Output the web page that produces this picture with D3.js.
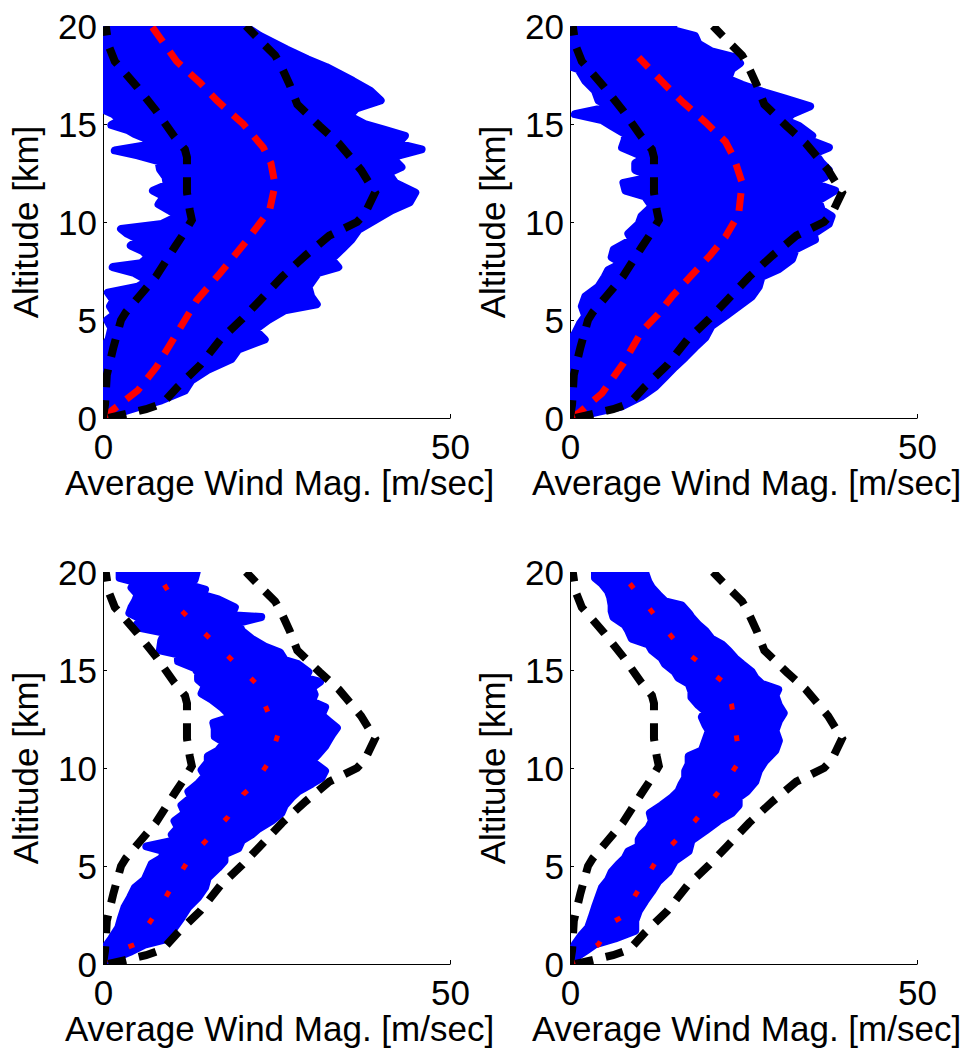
<!DOCTYPE html>
<html>
<head>
<meta charset="utf-8">
<script src="https://cdn.jsdelivr.net/npm/d3@7/dist/d3.min.js"></script>
<style>
  html, body { margin: 0; padding: 0; background: #ffffff; }
  svg { display: block; }
  text { font-family: "Liberation Sans", Arial, Helvetica, sans-serif; }
</style>
</head>
<body>
<svg id="chart" width="968" height="1050"></svg>
<script>
// ---- axis ticks and titles ----
const altitudeTicks = [0, 5, 10, 15, 20];   // km
const speedTicks = [0, 50];                 // m/s
const xTitle = "Average Wind Mag. [m/sec]";
const yTitle = "Altitude [km]";

// ---- shared climatological envelope, points are [altitude km, speed m/s] ----
const envelopeLow = [[0,0],[0.7,0.3],[2.2,0.55],[3.6,1.5],[5.0,2.6],[5.4,3.3],[6.2,5.2],[7.2,7.6],[8.7,10.3],[9.5,11.8],[10.1,12.8],[10.6,12.5],[11.5,12.1],[13.3,12.1],[13.7,11.8],[14.35,10.3],[15.7,7.6],[16.9,4.9],[18.2,1.7],[19.0,0.8],[20,0.4]];
const envelopeHigh = [[0,0.8],[0.2,3.2],[0.45,6.2],[0.75,8.6],[1.6,10.8],[2.7,14.0],[4.0,16.9],[5.0,19.9],[6.0,22.6],[7.2,25.8],[8.3,29.2],[9.3,32.6],[10.0,36.6],[10.4,37.7],[11.5,39.2],[12.65,37.2],[14.0,34.0],[14.9,31.2],[16.0,28.0],[17.0,26.9],[18.0,25.6],[18.5,24.8],[19.2,22.8],[20,20.6]];

// ---- spread of individual profiles: lower and upper edge per case ----
const spreadLowA = [[0,0],[3.6,0],[4.0,0.8],[4.6,1.2],[5.0,0.6],[5.3,1.7],[5.7,1.0],[6.0,1.5],[6.4,0.7],[6.7,5.0],[7.0,6.5],[7.4,4.5],[7.7,1.4],[7.9,5.5],[8.2,6.5],[8.5,5.8],[8.8,4.0],[9.1,5.2],[9.4,3.5],[9.65,2.6],[9.9,8.5],[10.3,10.8],[10.6,9.5],[10.9,8.0],[11.3,8.8],[11.6,7.2],[11.9,9.2],[12.3,9.0],[12.7,8.2],[13.1,8.0],[13.4,5.0],[13.65,1.7],[13.9,6.0],[14.2,6.5],[14.5,4.5],[14.7,3.5],[14.95,1.2],[15.2,2.5],[15.5,1.5],[15.7,0.3],[15.8,0],[20,0]];
const spreadHighA = [[0,1.2],[0.24,2.2],[0.6,5.5],[0.9,8.4],[1.4,11.8],[1.9,12.7],[2.45,15.1],[3.0,18.5],[3.5,19.5],[4.0,23.3],[4.5,21.9],[5.0,23.8],[5.5,26.2],[5.8,30.8],[6.2,30.0],[6.7,29.6],[7.4,31.0],[7.7,33.9],[8.1,32.9],[8.6,34.4],[9.1,35.8],[9.6,36.8],[10.1,39.2],[10.6,41.6],[11.0,44.2],[11.5,45.0],[12.0,42.1],[12.5,41.1],[12.8,43.0],[13.3,41.6],[13.7,45.9],[14.0,42.5],[14.4,43.5],[14.7,40.6],[15.0,37.7],[15.4,35.5],[15.8,36.5],[16.2,40.0],[16.7,38.5],[17.2,36.0],[17.9,32.2],[18.3,29.5],[18.8,26.5],[19.5,22.6],[20,20.4]];
const meanA = [[0,0],[0.25,0.8],[1.4,5.0],[2.6,7.7],[4.3,10.6],[6.0,13.5],[7.4,16.9],[9.0,20.6],[10.6,24.0],[11.9,24.8],[13.0,24.2],[13.8,23.1],[15.0,20.2],[16.2,16.4],[17.1,14.0],[18.2,10.6],[19.4,8.2],[20,7.0]];

const spreadLowB = [[0,0],[3.98,0],[4.3,0.7],[4.8,1.4],[5.2,2.2],[5.7,1.7],[6.2,2.2],[6.7,4.1],[7.2,5.0],[7.55,5.5],[7.9,7.5],[8.2,6.0],[8.6,6.3],[9.1,8.9],[9.4,8.4],[9.9,9.9],[10.3,10.3],[10.8,11.8],[11.3,10.8],[11.6,8.0],[12.0,7.7],[12.3,11.8],[12.65,9.4],[13.0,9.4],[13.3,10.8],[13.8,7.5],[14.2,7.9],[14.5,7.9],[14.9,6.0],[15.2,4.6],[15.5,0.7],[15.9,6.0],[16.2,4.1],[16.7,3.6],[17.2,2.2],[17.8,1.2],[17.95,0],[20,0]];
const spreadHighB = [[0,0.7],[0.24,3.1],[0.6,7.5],[1.1,10.3],[1.6,12.3],[2.1,13.7],[2.6,15.1],[3.1,16.6],[3.6,18.0],[4.1,19.5],[4.7,20.4],[5.2,22.4],[5.7,24.3],[6.2,26.2],[6.7,27.2],[7.2,27.6],[7.6,30.1],[8.1,32.0],[8.6,32.5],[9.1,35.3],[9.4,35.1],[9.9,37.3],[10.3,37.7],[10.6,36.3],[11.1,35.8],[11.6,38.2],[12.0,34.9],[12.3,36.8],[12.65,37.3],[13.0,36.3],[13.5,35.3],[13.8,37.3],[14.2,34.4],[14.4,34.9],[14.9,33.0],[15.2,31.0],[15.5,32.0],[15.9,34.6],[16.3,31.0],[16.6,28.1],[17.0,24.8],[17.3,22.8],[17.8,23.3],[18.1,24.5],[18.4,23.8],[18.7,20.4],[19.1,18.5],[19.5,18.0],[19.8,14.7],[20,14.9]];
const meanB = [[0,0],[0.24,1.2],[1.26,4.6],[2.8,7.7],[4.4,10.3],[5.3,12.7],[6.2,14.7],[7.2,17.3],[8.3,20.2],[9.25,22.4],[10.4,24.3],[12.0,24.8],[13.3,23.6],[14.1,22.4],[15.1,19.5],[16.1,16.3],[17.0,13.7],[18.4,9.9]];

const spreadLowC = [[0,0],[0.5,0],[0.8,0.2],[1.3,1.2],[1.85,2.2],[2.35,2.6],[2.9,3.1],[3.4,3.9],[3.9,4.6],[4.3,6.0],[4.7,6.5],[5.1,7.0],[5.4,8.4],[5.75,8.9],[6.0,6.25],[6.3,10.3],[6.6,9.9],[6.95,10.8],[7.3,10.3],[7.7,11.8],[8.1,11.3],[8.5,12.7],[8.8,12.3],[9.2,13.7],[9.6,14.7],[9.9,14.2],[10.3,15.1],[10.6,15.1],[10.9,16.6],[11.3,17.5],[11.6,16.1],[12.0,16.1],[12.3,15.9],[12.6,18.5],[13.1,17.1],[13.5,15.6],[13.8,14.2],[14.2,14.7],[14.5,13.7],[14.85,13.7],[15.1,13.2],[15.45,10.8],[15.8,10.8],[16.0,8.2],[16.5,8.4],[16.9,8.9],[17.2,4.6],[17.6,5.5],[17.9,3.8],[18.2,4.1],[18.5,4.6],[18.85,5.0],[19.2,4.1],[19.5,4.6],[19.7,2.4],[20,2.4]];
const spreadHighC = [[0,0.3],[0.3,1.7],[0.65,4.1],[0.99,6.0],[1.3,9.4],[1.85,10.3],[2.35,11.3],[2.9,12.3],[3.4,13.7],[3.9,14.7],[4.4,15.1],[4.9,16.6],[5.25,17.5],[5.6,17.5],[5.9,19.5],[6.3,20.0],[6.6,21.4],[6.9,22.4],[7.3,24.3],[7.7,25.7],[8.1,26.2],[8.5,27.2],[8.8,28.1],[9.2,30.1],[9.5,31.5],[9.85,32.0],[10.35,30.1],[10.7,31.0],[11.1,32.0],[11.4,32.5],[11.7,33.0],[12.05,33.7],[12.4,32.5],[12.7,31.5],[13.1,32.0],[13.4,30.1],[13.75,30.5],[14.1,30.1],[14.4,31.3],[14.6,29.1],[14.9,29.6],[15.3,28.1],[15.5,26.2],[15.9,25.5],[16.2,23.3],[16.6,21.4],[17.0,20.0],[17.4,19.5],[17.7,22.8],[17.8,18.5],[18.2,19.0],[18.6,16.6],[18.85,14.2],[19.1,14.7],[19.4,11.8],[19.6,13.2],[20,13.5]];
const meanC = [[0,0],[0.5,1.0],[1.0,4.6],[2.9,8.2],[4.05,10.1],[5.4,12.5],[7.5,18.0],[8.65,20.2],[9.1,21.6],[10.35,24.0],[11.7,25.2],[12.2,24.5],[14.3,22.1],[15.3,19.2],[16.3,16.3],[18.2,10.8],[19.6,8.4],[20,7.6]];

const spreadLowD = [[0,0],[0.5,0.2],[1.0,0.7],[1.5,1.7],[1.85,2.6],[2.35,3.1],[2.9,3.6],[3.4,4.1],[3.9,4.6],[4.3,5.5],[4.7,6.0],[5.1,7.0],[5.4,7.9],[5.75,8.4],[6.0,9.9],[6.35,9.9],[6.6,10.3],[6.95,11.3],[7.3,11.8],[7.7,11.5],[8.1,13.2],[8.5,14.7],[8.8,15.6],[9.2,16.1],[9.5,16.6],[9.85,16.6],[10.2,17.1],[10.6,17.1],[10.9,19.0],[11.4,19.5],[11.9,20.0],[12.2,19.5],[12.6,19.0],[12.9,19.5],[13.2,18.5],[13.6,17.5],[13.9,17.5],[14.3,17.1],[14.6,15.6],[14.9,15.1],[15.3,13.7],[15.6,13.2],[16.0,11.8],[16.3,11.3],[16.6,8.9],[17.0,8.4],[17.3,7.9],[17.7,6.25],[18.0,6.0],[18.3,6.0],[18.7,5.8],[19.0,5.5],[19.4,4.6],[19.7,3.6],[20,3.6]];
const spreadHighD = [[0,0],[0.3,0.7],[0.65,2.2],[1.0,3.6],[1.3,6.5],[1.7,9.4],[2.2,9.4],[2.7,9.9],[3.2,10.8],[3.7,11.8],[4.2,12.7],[4.7,14.2],[5.25,15.1],[5.75,17.1],[6.3,17.5],[6.8,19.5],[7.3,21.4],[7.7,23.3],[8.1,24.3],[8.5,24.3],[8.8,25.5],[9.3,26.7],[9.85,27.2],[10.35,28.1],[10.9,29.6],[11.4,30.1],[11.9,29.6],[12.4,30.1],[12.8,30.8],[13.2,30.1],[13.7,29.6],[14.0,30.0],[14.3,27.6],[14.6,26.7],[14.9,26.2],[15.3,24.8],[15.6,23.8],[16.0,22.8],[16.3,21.9],[16.6,20.4],[17.0,19.5],[17.3,18.5],[17.7,17.5],[17.9,17.1],[18.3,16.1],[18.5,13.7],[18.85,12.7],[19.2,11.8],[19.5,11.3],[20,10.8]];
const meanD = [[0,0],[0.15,0.7],[1.0,4.1],[2.1,6.0],[2.4,7.5],[3.1,8.7],[5.3,12.5],[7.3,18.0],[9.0,21.9],[10.4,24.5],[13.2,23.3],[14.3,22.4],[16.1,16.1],[17.1,13.7],[18.2,11.3],[19.6,8.2],[20,7.5]];

// ---- panel placement (pixels) and the series each panel shows ----
const panels = [
  { left: 103, top: 26,  w: 347, h: 392, low: spreadLowA, high: spreadHighA, mean: meanA, meanHidden: false },
  { left: 570, top: 26,  w: 347, h: 392, low: spreadLowB, high: spreadHighB, mean: meanB, meanHidden: false },
  { left: 103, top: 572, w: 347, h: 392, low: spreadLowC, high: spreadHighC, mean: meanC, meanHidden: true },
  { left: 570, top: 572, w: 347, h: 392, low: spreadLowD, high: spreadHighD, mean: meanD, meanHidden: true }
];

const FONT = 35;
const svg = d3.select("#chart");
const defs = svg.append("defs");

panels.forEach((p, i) => {
  const x = d3.scaleLinear().domain([0, 50]).range([0, p.w]);
  const y = d3.scaleLinear().domain([0, 20]).range([p.h, 0]);

  const g = svg.append("g").attr("transform", `translate(${p.left},${p.top})`);

  // axes (drawn first so the profiles sit on top of them)
  const yAxis = d3.axisLeft(y).tickValues(altitudeTicks).tickFormat(d3.format("d"))
    .tickSizeInner(-4).tickSizeOuter(0).tickPadding(6);
  const xAxis = d3.axisBottom(x).tickValues(speedTicks).tickFormat(d3.format("d"))
    .tickSizeInner(-4).tickSizeOuter(0).tickPadding(16);

  const gy = g.append("g").call(yAxis);
  const gx = g.append("g").attr("transform", `translate(0,${p.h})`).call(xAxis);
  [gx, gy].forEach(a => {
    a.attr("font-family", null).attr("font-size", null).attr("color", "#000");
    a.selectAll("text").attr("font-size", FONT).attr("fill", "#000");
  });
  gy.selectAll("text").attr("dy", "0.36em");

  // axis titles
  g.append("text")
    .attr("x", p.w / 2 + 3).attr("y", p.h + 77)
    .attr("text-anchor", "middle").attr("font-size", FONT).attr("fill", "#000")
    .text(xTitle);
  g.append("text")
    .attr("transform", `translate(-65,${p.h / 2}) rotate(-90)`)
    .attr("text-anchor", "middle").attr("font-size", FONT).attr("fill", "#000")
    .text(yTitle);

  // clip data to the plotting box
  defs.append("clipPath").attr("id", "plotClip" + i)
    .append("rect").attr("width", p.w).attr("height", p.h);
  const plot = g.append("g").attr("clip-path", `url(#plotClip${i})`);

  const line = d3.line().x(d => x(d[1])).y(d => y(d[0]));

  // spread of all profiles: lower edge going up, upper edge coming back down
  const outline = p.low.concat(p.high.slice().reverse());
  plot.append("path")
    .attr("d", line(outline) + "Z")
    .attr("fill", "#0000ff")
    .attr("stroke", "#0000ff")
    .attr("stroke-width", 8)
    .attr("stroke-linejoin", "round");

  // mean profile
  plot.append("path")
    .attr("d", line(p.mean))
    .attr("fill", "none")
    .attr("stroke", "#ff0000")
    .attr("stroke-width", p.meanHidden ? 5 : 7)
    .attr("stroke-dasharray", p.meanHidden ? "6,26" : "18,12");

  // envelope
  [envelopeLow, envelopeHigh].forEach(env => {
    plot.append("path")
      .attr("d", line(env))
      .attr("fill", "none")
      .attr("stroke", "#000")
      .attr("stroke-width", 8)
      .attr("stroke-dasharray", "18,13");
  });
});
</script>
</body>
</html>
